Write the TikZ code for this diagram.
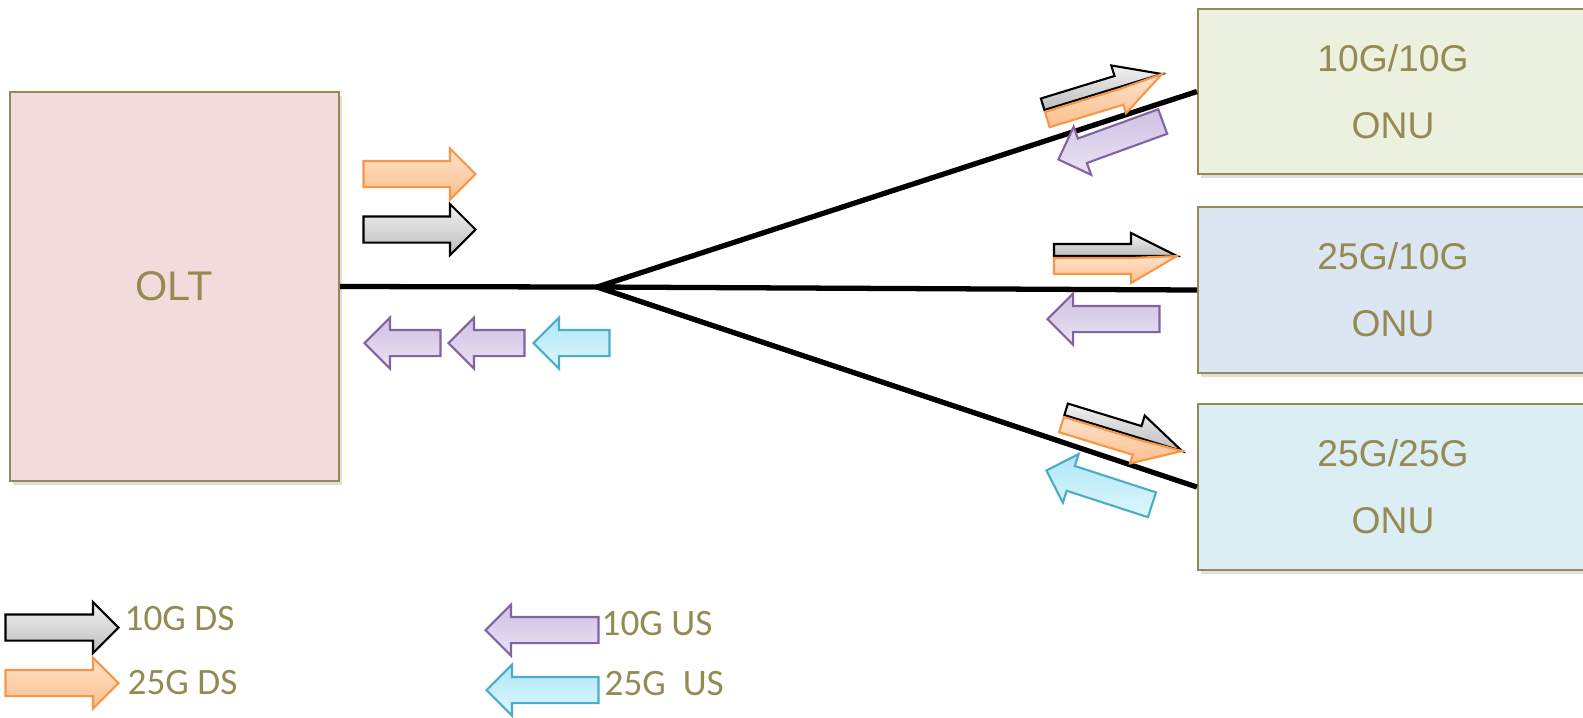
\documentclass[tikz,border=0pt]{standalone}
\usepackage{fontspec}
\setmainfont{Liberation Sans}
\newfontfamily\legendfont{Carlito}
\usetikzlibrary{shapes.arrows,shadows}

\definecolor{olivetext}{HTML}{948A54}
\definecolor{oltfill}{HTML}{F2DCDB}
\definecolor{onuAfill}{HTML}{EBF1DE}
\definecolor{onuBfill}{HTML}{DCE6F2}
\definecolor{onuCfill}{HTML}{DBEEF4}
\definecolor{graytop}{HTML}{F2F2F2}
\definecolor{graybot}{HTML}{BDBDBD}
\definecolor{orangeline}{HTML}{F79646}
\definecolor{orangetop}{HTML}{FFE2CA}
\definecolor{orangebot}{HTML}{FBBF8C}
\definecolor{purpleline}{HTML}{8064A2}
\definecolor{purpletop}{HTML}{EAE3F3}
\definecolor{purplebot}{HTML}{CFC0E3}
\definecolor{cyanline}{HTML}{4BACC6}
\definecolor{cyantop}{HTML}{DFF7FD}
\definecolor{cyanbot}{HTML}{AEE6F7}

\tikzset{
  box/.style={draw=olivetext, line width=0.6pt, text=olivetext,
    drop shadow={shadow xshift=0.3mm, shadow yshift=-0.4mm, opacity=0.25}},
  fiber/.style={line width=1.5pt, draw=black},
  arr/.style={single arrow, single arrow head extend=1.25mm,
    minimum width=4.9mm, inner xsep=0pt, inner ysep=1.2mm, line width=0.6pt, anchor=tip},
  ds10/.style={arr, draw=black, top color=graytop, bottom color=graybot},
  ds25/.style={arr, draw=orangeline, top color=orangetop, bottom color=orangebot},
  % left pointing ones are turned round, so their colours are swapped
  us10/.style={arr, draw=purpleline, top color=purplebot, bottom color=purpletop},
  us25/.style={arr, draw=cyanline, top color=cyanbot, bottom color=cyantop},
  legendtext/.style={text=olivetext, inner sep=0pt, anchor=west,
    font=\legendfont\fontsize{10.6}{12}\selectfont}
}

\begin{document}
\begin{tikzpicture}[x=0.1mm, y=-0.1mm]
\useasboundingbox (0,0) rectangle (1583,717);

% OLT and the three ONUs
\node[box, fill=oltfill, minimum width=32.9mm, minimum height=38.9mm,
  font=\fontsize{11.8}{14}\selectfont] (olt) at (174.5,286.5) {OLT};

\node[box, fill=onuAfill, minimum width=39mm, minimum height=16.5mm, align=center,
  font=\fontsize{10.6}{19}\selectfont] (onuA) at (1393,91.5) {10G/10G\\ONU};
\node[box, fill=onuBfill, minimum width=39mm, minimum height=16.6mm, align=center,
  font=\fontsize{10.6}{19}\selectfont] (onuB) at (1393,290) {25G/10G\\ONU};
\node[box, fill=onuCfill, minimum width=39mm, minimum height=16.6mm, align=center,
  font=\fontsize{10.6}{19}\selectfont] (onuC) at (1393,487) {25G/25G\\ONU};

% fibre tree
\coordinate (split) at (597,287);
\draw[fiber] (olt.east) -- (split);
\draw[fiber]
     (split) -- (onuA.west)
     (split) -- (onuB.west)
     (split) -- (onuC.west);

% traffic at the OLT
\node[ds25, minimum height=11.2mm] (oltds25) at (477,174) {};
\node[ds10, minimum height=11.2mm] (oltds10) at (477,229.5) {};
\node[us10, minimum height=7.6mm, rotate=180] (oltusA) at (363,343) {};
\node[us10, minimum height=7.6mm, rotate=180] (oltusB) at (447,343) {};
\node[us25, minimum height=7.6mm, rotate=180] (oltusC) at (532,343) {};

% downstream pairs at the ONUs
\foreach \tx/\ty/\ang in {1162/74/17, 1177/256/0, 1182/451/-17}{
  \begin{scope}[shift={(\tx,\ty)}, rotate=\ang]
    \draw[draw=black, line width=0.6pt, top color=graytop, bottom color=graybot]
      (0,0) -- (-46,-23) -- (-46,-12) -- (-123,-12) -- (-123,0) -- (-46,0) -- cycle;
    \draw[draw=orangeline, line width=0.6pt, top color=orangetop, bottom color=orangebot]
      (0,0) -- (-46,27) -- (-46,18) -- (-123,18) -- (-123,2) -- (-46,2) -- cycle;
  \end{scope}
}

% upstream at the ONUs
\node[us10, minimum height=11.1mm, rotate=200] (onuusA) at (1057,160) {};
\node[us10, minimum height=11.2mm, rotate=180] (onuusB) at (1046,319) {};
\node[us25, minimum height=11.1mm, rotate=162] (onuusC) at (1045,470) {};

% legend
\node[ds10, minimum height=11.3mm] (keyds10) at (120,627.5) {};
\node[ds25, minimum height=11.3mm] (keyds25) at (120,683) {};
\node[us10, minimum height=11.3mm, rotate=180] (keyus10) at (484,630) {};
\node[us25, minimum height=11.2mm, rotate=180] (keyus25) at (485,690) {};

\node[legendtext] (txtds10) at (124,618.5) {10G DS};
\node[legendtext] (txtds25) at (127,682.5) {25G DS};
\node[legendtext] (txtus10) at (601,623.5) {10G US};
\node[legendtext] (txtus25) at (604,683.5) {25G\ \ US};
\end{tikzpicture}
\end{document}
